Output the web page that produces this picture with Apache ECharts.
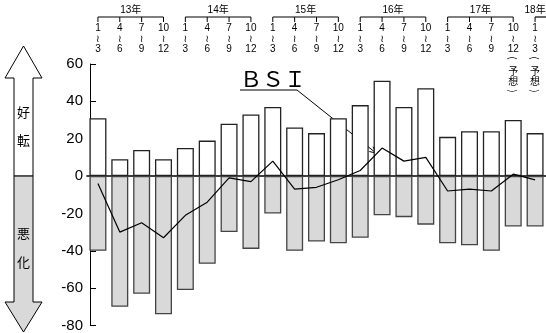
<!DOCTYPE html>
<html><head><meta charset="utf-8">
<script src="https://cdn.jsdelivr.net/npm/echarts@6/dist/echarts.min.js"></script>
<style>html,body{margin:0;padding:0;background:#fff}#c{width:546px;height:333px}</style>
</head><body><div id="c"></div>
<script>
var years = ['13年','14年','15年','16年','17年','18年'];
var quarters = ['1\n≀\n3','4\n≀\n6','7\n≀\n9','10\n≀\n12'];
var forecastChars = ['(','予','想',')'];
var forecastIdx = [19, 20];
var improved = [31,9,14,9,15,19,28,33,37,26,23,31,38,51,37,47,21,24,24,30,23];
var worsened = [-40,-70,-63,-74,-61,-47,-30,-39,-20,-40,-35,-36,-33,-21,-22,-26,-36,-37,-40,-27,-27];
var bsi = [-4,-30,-25,-33,-21,-14,-1,-3,8,-7,-6,-2,3,15,8,10,-8,-7,-8,1,-2];
var yTicks = {min:-80, max:60, interval:20};

var categories = [];
years.forEach(function(y, yi){
  quarters.forEach(function(q, qi){
    if (categories.length < improved.length) categories.push(y + q);
  });
});
var FONT = "'Liberation Sans','DejaVu Sans','Noto Sans CJK JP',sans-serif";
var CJK = "'Noto Sans CJK JP',sans-serif";

var chart = echarts.init(document.getElementById('c'), null, {renderer:'canvas'});
var gridTop = 64, gridH = 262.5;
chart.setOption({
  animation:false,
  grid:{left:87, width:462, top:gridTop, height:gridH},
  xAxis:[{
    type:'category', data:categories, position:'bottom',
    axisLine:{onZero:true, lineStyle:{color:'#000', width:1.6}},
    axisTick:{show:false}, axisLabel:{show:false}, splitLine:{show:false}
  },{
    type:'category', data:categories, position:'top',
    axisLine:{show:false}, axisTick:{show:false}, splitLine:{show:false},
    axisLabel:{
      interval:0, margin:41, verticalAlign:'top', fontSize:10, lineHeight:10.5,
      color:'#000', fontFamily:FONT,
      formatter:function(v, i){ return quarters[i % 4]; }
    }
  }],
  yAxis:{
    type:'value', min:yTicks.min, max:yTicks.max, interval:yTicks.interval, offset:-3,
    axisLine:{show:true, lineStyle:{color:'#000', width:1}},
    axisTick:{show:true, inside:true, length:6, lineStyle:{color:'#000'}},
    splitLine:{show:false},
    axisLabel:{fontSize:15, color:'#000', fontFamily:FONT, margin:7}
  },
  series:[{
    type:'bar', data:improved, barWidth:17, barGap:'-100%',
    itemStyle:{color:'#fff', borderColor:'#222', borderWidth:1.3}
  },{
    type:'bar', data:worsened, barWidth:17, barGap:'-100%',
    itemStyle:{color:'#d9d9d9', borderColor:'#444', borderWidth:1.3}
  },{
    type:'line', data:bsi, symbol:'none', z:5,
    lineStyle:{color:'#000', width:1.2}
  }]
});

var g = [];
var zeroY = chart.convertToPixel({yAxisIndex:0}, 0);
function px(i, v){ return chart.convertToPixel({seriesIndex:2}, [i, v]); }
// left arrow
g.push({type:'polygon', shape:{points:[[23.5,46],[42,78],[33,78],[33,zeroY],[14,zeroY],[14,78],[5,78]]},
  style:{fill:'#fff', stroke:'#000', lineWidth:1}});
g.push({type:'polygon', shape:{points:[[14,zeroY],[33,zeroY],[33,302],[42,302],[23.5,332],[5,302],[14,302]]},
  style:{fill:'#d9d9d9', stroke:'#000', lineWidth:1}});
[['好',112],['転',140],['悪',233],['化',262]].forEach(function(t){
  g.push({type:'text', x:23.5, y:t[1], style:{text:t[0], font:'13px '+CJK, fill:'#000', align:'center', verticalAlign:'middle'}});
});
// forecast notes (vertical)
var noteY = [58, 71, 81.5, 91];
forecastIdx.forEach(function(i){
  var x = px(i, 0)[0];
  forecastChars.forEach(function(ch, k){
    var isParen = (k === 0 || k === 3);
    g.push({type:'text', x:x, y:noteY[k], rotation: isParen ? -Math.PI/2 : 0,
      style:{text:ch, font:'10px '+CJK, fill:'#000', align:'center', verticalAlign:'middle'}});
  });
});
// year brackets
years.forEach(function(y, yi){
  var first = yi*4, last = Math.min(yi*4+3, categories.length-1);
  var x0 = px(first, 0)[0];
  var full = (yi*4+3 < categories.length);
  var x1 = full ? px(last, 0)[0] : 560;
  var labX = full ? (x0+x1)/2 : x0;
  g.push({type:'line', shape:{x1:x0, y1:17, x2:x1, y2:17}, style:{stroke:'#000', lineWidth:1.2}});
  for (var k=first; k<=last; k++){
    var xx = px(k,0)[0];
    g.push({type:'line', shape:{x1:xx, y1:17, x2:xx, y2:22}, style:{stroke:'#000', lineWidth:1}});
  }
  g.push({type:'text', x:labX, y:10, style:{text:y, font:'10px '+FONT, fill:'#000', align:'center', verticalAlign:'middle'}});
});
// BSI annotation
var target = px(13, bsi[13]);
var tip = [target[0]-6, target[1]+5];
var start = [297, 90];
g.push({type:'text', x:240, y:79, style:{text:'ＢＳＩ', font:'22px '+CJK, fill:'#000', align:'left', verticalAlign:'middle'}});
g.push({type:'line', shape:{x1:240, y1:90, x2:start[0], y2:start[1]}, style:{stroke:'#000', lineWidth:1}});
g.push({type:'line', shape:{x1:start[0], y1:start[1], x2:tip[0], y2:tip[1]}, style:{stroke:'#000', lineWidth:1}});
var ang = Math.atan2(tip[1]-start[1], tip[0]-start[0]);
[0.45,-0.45].forEach(function(d){
  var a = ang + Math.PI + d;
  g.push({type:'line', shape:{x1:tip[0], y1:tip[1], x2:tip[0]+7*Math.cos(a), y2:tip[1]+7*Math.sin(a)}, style:{stroke:'#000', lineWidth:1}});
});
chart.setOption({graphic:g});
</script>
</body></html>
